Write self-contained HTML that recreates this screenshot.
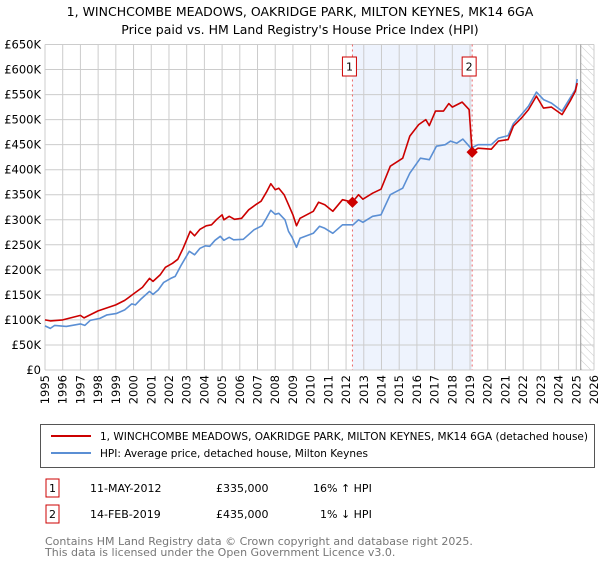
<!DOCTYPE html>
<html><head><meta charset="utf-8">
<style>
body{margin:0;background:#fff;width:600px;height:560px;overflow:hidden;font-family:"DejaVu Sans","Liberation Sans",sans-serif;}
svg text{font-family:"DejaVu Sans","Liberation Sans",sans-serif;}
</style></head>
<body>
<svg id="chart" width="600" height="560" xmlns="http://www.w3.org/2000/svg">
<text x="300" y="16" text-anchor="middle" font-size="12.5" fill="#000">1, WINCHCOMBE MEADOWS, OAKRIDGE PARK, MILTON KEYNES, MK14 6GA</text>
<text x="300" y="34" text-anchor="middle" font-size="12.5" fill="#000">Price paid vs. HM Land Registry's House Price Index (HPI)</text>
<g id="plot"></g>
<g>
<rect x="40.5" y="424.5" width="554" height="43" fill="#fff" stroke="#555"/>
<line x1="51" y1="436" x2="91" y2="436" stroke="#cc0000" stroke-width="2"/>
<text x="100" y="440" font-size="10.5" textLength="488" lengthAdjust="spacingAndGlyphs">1, WINCHCOMBE MEADOWS, OAKRIDGE PARK, MILTON KEYNES, MK14 6GA (detached house)</text>
<line x1="51" y1="453" x2="91" y2="453" stroke="#5b8fd4" stroke-width="2"/>
<text x="100" y="457" font-size="10.5" textLength="268" lengthAdjust="spacingAndGlyphs">HPI: Average price, detached house, Milton Keynes</text>
</g>
<g font-size="11">
<rect x="46" y="479" width="13" height="18" fill="#fff" stroke="#cc0000"/>
<text x="52.5" y="492" text-anchor="middle">1</text>
<text x="90" y="492">11-MAY-2012</text>
<text x="216" y="492">£335,000</text>
<text x="313" y="492">16% ↑ HPI</text>
<rect x="46" y="505" width="13" height="18" fill="#fff" stroke="#cc0000"/>
<text x="52.5" y="518" text-anchor="middle">2</text>
<text x="90" y="518">14-FEB-2019</text>
<text x="216" y="518">£435,000</text>
<text x="320" y="518">1% ↓ HPI</text>
</g>
<text x="45" y="545" font-size="11" fill="#777">Contains HM Land Registry data © Crown copyright and database right 2025.</text>
<text x="45" y="556" font-size="11" fill="#777">This data is licensed under the Open Government Licence v3.0.</text>
</svg>
<script>
const hpiYears=[1995.0,1995.3,1995.55,1996.2,1997.0,1997.25,1997.55,1998.1,1998.5,1999.05,1999.5,1999.9,2000.1,2000.4,2000.9,2001.1,2001.4,2001.7,2002.1,2002.35,2002.7,2003.15,2003.45,2003.75,2004.05,2004.3,2004.6,2004.9,2005.1,2005.4,2005.65,2006.2,2006.8,2007.25,2007.5,2007.75,2008.0,2008.2,2008.55,2008.75,2008.95,2009.2,2009.4,2010.15,2010.5,2010.8,2011.25,2011.8,2012.4,2012.7,2012.95,2013.5,2013.97,2014.5,2015.2,2015.6,2016.2,2016.7,2017.1,2017.6,2017.9,2018.25,2018.6,2019.05,2019.45,2020.2,2020.6,2021.15,2021.45,2021.9,2022.3,2022.75,2023.15,2023.6,2024.2,2024.65,2024.95,2025.05];
const hpiValues=[88,83,89,87,92,89,99,103,110,113,120,132,130,141,157,151,160,175,183,187,210,237,230,243,248,247,259,267,259,265,260,261,280,288,303,319,311,313,300,277,265,245,263,273,287,283,273,290,290,300,295,307,310,350,363,393,423,420,447,450,457,453,461,443,450,450,463,468,492,510,527,555,540,533,517,543,560,581];
const priceYears=[1995.0,1995.3,1996.0,1997.0,1997.2,1998.0,1999.0,1999.5,2000.0,2000.5,2000.9,2001.1,2001.5,2001.8,2002.2,2002.5,2002.8,2003.2,2003.45,2003.75,2004.1,2004.4,2004.7,2005.0,2005.1,2005.4,2005.7,2006.1,2006.5,2006.9,2007.2,2007.5,2007.75,2008.0,2008.2,2008.5,2008.75,2009.0,2009.2,2009.4,2010.15,2010.45,2010.8,2011.25,2011.8,2012.36,2012.7,2012.95,2013.5,2013.97,2014.5,2015.2,2015.6,2016.1,2016.5,2016.7,2017.05,2017.5,2017.8,2018.0,2018.55,2018.95,2019.12,2019.45,2020.2,2020.6,2021.15,2021.45,2021.9,2022.3,2022.75,2023.15,2023.6,2024.2,2024.65,2024.95,2025.05];
const priceValues=[100,98,100,109,104,118,130,139,152,165,183,177,190,205,213,221,243,277,268,281,288,290,301,310,300,307,301,303,320,330,337,355,372,360,363,350,330,310,288,303,317,335,330,317,340,335,350,341,353,361,407,423,467,490,500,488,517,517,532,525,535,520,435,443,441,457,460,487,503,520,547,523,525,510,537,557,573];
const saleYears=[2012.36,2019.12];
const saleValues=[335,435];
const saleLabels=["1","2"];
const yTicks=[0,50,100,150,200,250,300,350,400,450,500,550,600,650];
const yTickLabels=["£0","£50K","£100K","£150K","£200K","£250K","£300K","£350K","£400K","£450K","£500K","£550K","£600K","£650K"];
const xTicks=[1995,1996,1997,1998,1999,2000,2001,2002,2003,2004,2005,2006,2007,2008,2009,2010,2011,2012,2013,2014,2015,2016,2017,2018,2019,2020,2021,2022,2023,2024,2025,2026];
const dataEnd=2025.25;

const L=45,R=594,T=44.5,B=370;
const xS=y=>L+(y-1995)/(2026-1995)*(R-L);
const yS=v=>B-v/650*(B-T);
const NS="http://www.w3.org/2000/svg";
const g=document.getElementById('plot');
function mk(tag,attrs,parent){const e=document.createElementNS(NS,tag);for(const k in attrs)e.setAttribute(k,attrs[k]);(parent||g).appendChild(e);return e;}

let e=mk('rect',{x:xS(saleYears[0]),y:T,width:xS(saleYears[1])-xS(saleYears[0]),height:B-T,fill:'#eef3fd'});


const defs=mk('defs',{});
const pat=mk('pattern',{id:'hatch',width:6,height:6,patternUnits:'userSpaceOnUse',patternTransform:'rotate(-45)'},defs);
mk('line',{x1:0,y1:0,x2:0,y2:6,stroke:'#ccc','stroke-width':1},pat);
e=mk('rect',{x:xS(dataEnd),y:T,width:R-xS(dataEnd),height:B-T,fill:'url(#hatch)'});



yTicks.forEach((v,i)=>{
  const l=mk('line',{x1:L,x2:R,y1:yS(v),y2:yS(v),stroke:'#cccccc','stroke-width':1});
  
  
  const t=mk('text',{x:L-4,y:yS(v)+4,'text-anchor':'end','font-size':11.5});
  
  
  t.textContent=yTickLabels[i];
});
xTicks.forEach(y=>{
  const l=mk('line',{x1:xS(y),x2:xS(y),y1:T,y2:B,stroke:'#cccccc','stroke-width':1});
  
  
  const t=mk('text',{x:0,y:0,'text-anchor':'end','font-size':11.5,transform:`translate(${xS(y)+4},${B+5}) rotate(-90)`});
  
  
  t.textContent=y;
});
e=mk('line',{x1:xS(dataEnd),x2:xS(dataEnd),y1:T,y2:B,stroke:'#999','stroke-width':1});



saleYears.forEach((y,i)=>{
  const l=mk('line',{x1:xS(y),x2:xS(y),y1:T,y2:B,stroke:'#ee6666','stroke-width':1,'stroke-dasharray':'2,3'});
  
  
  const r=mk('rect',{x:xS(y)-10,y:57,width:14,height:19,fill:'#fff',stroke:'#cc0000'});
  
  
  const t=mk('text',{x:xS(y)-3,y:70.5,'text-anchor':'middle','font-size':11});
  
  
  t.textContent=saleLabels[i];
});

function line(xs,vs,color,name){
  const p=mk('polyline',{points:xs.map((y,i)=>xS(y).toFixed(1)+','+yS(vs[i]).toFixed(1)).join(' '),fill:'none',stroke:color,'stroke-width':1.6,'stroke-linejoin':'round'});
  
  
}
line(hpiYears,hpiValues,'#5b8fd4','hpi-line');
line(priceYears,priceValues,'#cc0000','price-paid-line');
saleYears.forEach((y,i)=>{
  const c=mk('rect',{x:xS(y)-4,y:yS(saleValues[i])-4,width:8,height:8,fill:'#cc0000',transform:`rotate(45 ${xS(y)} ${yS(saleValues[i])})`});
  
  
});
</script>
</body></html>
